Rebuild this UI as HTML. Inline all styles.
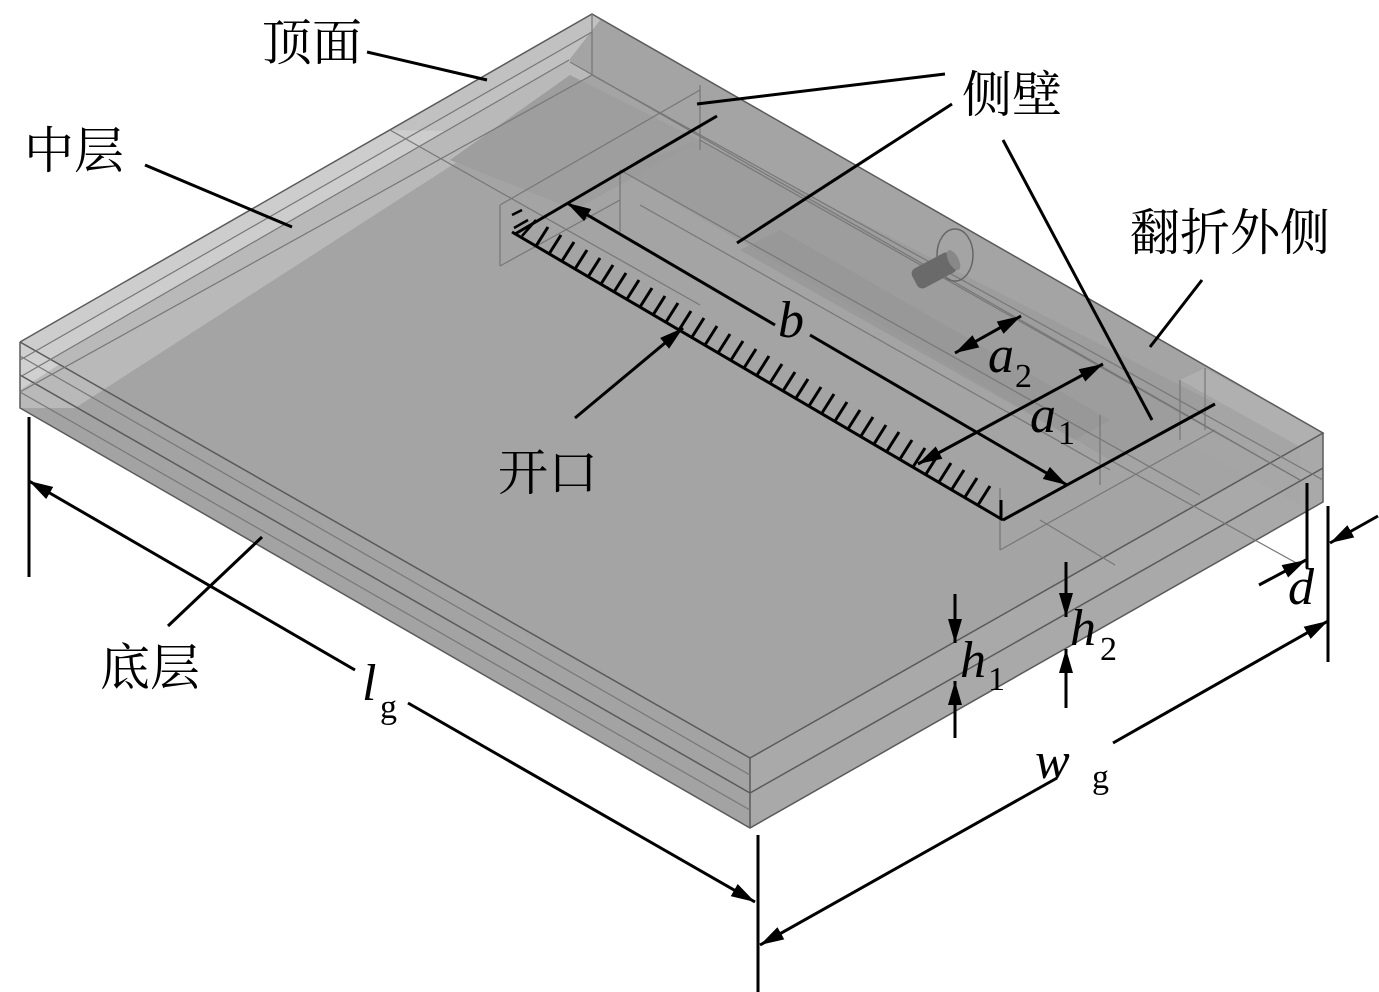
<!DOCTYPE html>
<html><head><meta charset="utf-8"><style>
html,body{margin:0;padding:0;background:#fff;}
svg{display:block;}
.cn{font-family:"Liberation Serif","Noto Serif CJK SC",serif;font-size:50px;fill:#000;}
.m{font-family:"Liberation Serif",serif;font-style:italic;font-size:52px;fill:#000;}
.s{font-family:"Liberation Serif",serif;font-size:34px;fill:#000;}
.k{stroke:#000;stroke-width:3;fill:none;}
.g{stroke:#5a5a5a;stroke-width:1.5;fill:none;}
.g2{stroke:#777;stroke-width:1.2;fill:none;}
</style></head><body>
<svg width="1379" height="992" viewBox="0 0 1379 992" xmlns="http://www.w3.org/2000/svg">
<defs>
<marker id="ah" viewBox="0 0 24 14" refX="24" refY="7" markerWidth="24" markerHeight="14" markerUnits="userSpaceOnUse" orient="auto">
<path d="M0,0 L24,7 L0,14 Z" fill="#000"/>
</marker>
<marker id="as" viewBox="0 0 24 14" refX="24" refY="7" markerWidth="24" markerHeight="14" markerUnits="userSpaceOnUse" orient="auto-start-reverse">
<path d="M0,0 L24,7 L0,14 Z" fill="#000"/>
</marker>
</defs>

<!-- board faces -->
<polygon points="20,342 750,758 750,828 20,408" fill="#a3a3a3"/>
<polygon points="750,758 1323,433 1323,502 750,828" fill="#a9a9a9"/>
<polygon points="20,342 592,14 1323,433 750,758" fill="#a4a4a4"/>
<!-- light bands along back-left edge -->
<polygon points="21,377 569,60 592,75 75,408 20,408" fill="#b9b9b9"/>
<polygon points="20,342 592,14 600,20 569,60 21,377" fill="#cdcdcd"/>
<polygon points="390,130 592,14 600,20 569,60 445,131" fill="#c1c1c1"/>
<polygon points="20,342 60,364 20,390" fill="#d0d0d0"/>
<!-- recessed darker region near top -->
<polygon points="450,160 570,75 700,140 575,210" fill="#9e9e9e"/>
<!-- right end raised box -->
<polygon points="1205,368 1323,433 1300,447 1180,380" fill="#b0b0b0"/>
<polygon points="1180,380 1300,447 1300,505 1180,440" fill="#a7a7a7" opacity="0.6"/>
<!-- slot channel -->
<polygon points="620,170 700,140 1215,403 1110,460" fill="#9a9a9a" opacity="0.7"/>
<polygon points="740,250 780,230 1110,420 1075,440" fill="#959595" opacity="0.6"/>

<!-- edges -->
<polyline class="g" points="20,342 592,14 1323,433 750,758 20,342"/>
<polyline class="g" points="20,342 20,408 750,828 1323,502 1323,433"/>
<line class="g" x1="750" y1="758" x2="750" y2="828"/>
<line class="g" x1="20" y1="375" x2="750" y2="793"/>
<line class="g" x1="750" y1="793" x2="1323" y2="468"/>
<!-- hidden/inner lines -->
<line class="g2" x1="20" y1="360" x2="592" y2="32"/>
<line class="g2" x1="20" y1="377" x2="569" y2="60"/>
<line class="g2" x1="20" y1="392" x2="592" y2="75"/>
<line class="g2" x1="592" y1="14" x2="592" y2="75"/>
<line class="g2" x1="20" y1="356" x2="750" y2="775"/>
<line class="g2" x1="20" y1="392" x2="750" y2="810"/>
<line class="g2" x1="570" y1="62" x2="1300" y2="480"/>
<line class="g2" x1="592" y1="75" x2="1323" y2="480"/>
<line class="g2" x1="390" y1="130" x2="700" y2="305"/>
<line class="g2" x1="700" y1="85" x2="700" y2="150"/>
<line class="g2" x1="620" y1="170" x2="620" y2="232"/>
<line class="g2" x1="500" y1="205" x2="500" y2="266"/>
<line class="g2" x1="500" y1="266" x2="620" y2="200"/>
<line class="g2" x1="500" y1="205" x2="700" y2="90"/>
<line class="g2" x1="620" y1="170" x2="1200" y2="495"/>
<line class="g2" x1="700" y1="140" x2="1300" y2="480"/>
<line class="g2" x1="640" y1="205" x2="1110" y2="470"/>
<line class="g2" x1="1205" y1="368" x2="1205" y2="430"/>
<line class="g2" x1="1100" y1="415" x2="1100" y2="485"/>
<line class="g2" x1="1000" y1="488" x2="1000" y2="550"/>
<line class="g2" x1="1000" y1="550" x2="1215" y2="430"/>
<line class="g2" x1="1040" y1="520" x2="1115" y2="565"/>
<line class="g2" x1="1110" y1="460" x2="1300" y2="565"/>
<line class="g2" x1="1180" y1="380" x2="1180" y2="440"/>

<!-- connector -->
<ellipse cx="955" cy="255" rx="18" ry="26" fill="none" stroke="#666" stroke-width="1.5"/>
<g transform="rotate(-28 935 270)"><rect x="912" y="259" width="44" height="22" rx="6" fill="#6a6a6a"/><ellipse cx="956" cy="270" rx="5" ry="11" fill="#888"/></g>

<!-- slot with hatching -->
<path d="M512,232 L1003,520" class="k"/>
<g stroke="#000" stroke-width="2.5">
<line x1="512" y1="215" x2="522" y2="210"/>
<line x1="514" y1="228" x2="528" y2="220"/>
<line x1="522" y1="236" x2="536" y2="220"/>
</g>
<path class="k" stroke-width="2.5" d="
M536,246 l12,-19 M549,254 l12,-19 M562,261 l12,-19 M575,269 l12,-19 M588,277 l12,-19
M601,284 l12,-19 M614,292 l12,-19 M627,299 l12,-19 M640,307 l12,-19 M653,315 l12,-19
M666,322 l12,-19 M679,330 l12,-19 M692,337 l12,-19 M705,345 l12,-19 M718,353 l12,-19
M731,360 l12,-19 M744,368 l12,-19 M757,375 l12,-19 M770,383 l12,-19 M783,391 l12,-19
M796,398 l12,-19 M809,406 l12,-19 M822,413 l12,-19 M835,421 l12,-19 M848,429 l12,-19
M861,436 l12,-19 M874,444 l12,-19 M887,451 l12,-19 M900,459 l12,-19 M913,467 l12,-19
M926,474 l12,-19 M939,482 l12,-19 M952,489 l12,-19 M965,497 l12,-19 M978,505 l12,-19
M1001,500 l0,18"/>
<!-- slot extension lines -->
<line class="k" x1="717" y1="116" x2="515" y2="234"/>
<line class="k" x1="1003" y1="520" x2="1215" y2="404"/>

<!-- b -->
<line class="k" x1="775" y1="325" x2="567" y2="203" marker-end="url(#ah)"/>
<line class="k" x1="810" y1="335" x2="1067" y2="485" marker-end="url(#ah)"/>
<text class="m" x="778" y="337">b</text>
<!-- a1 -->
<line class="k" x1="918" y1="464" x2="1103" y2="364" marker-start="url(#as)" marker-end="url(#ah)"/>
<text class="m" x="1030" y="432">a</text><text class="s" x="1058" y="444">1</text>
<!-- a2 -->
<line class="k" x1="955" y1="353" x2="1021" y2="316" marker-start="url(#as)" marker-end="url(#ah)"/>
<text class="m" x="988" y="372">a</text><text class="s" x="1015" y="387">2</text>

<!-- callouts -->
<text class="cn" x="262" y="60">顶面</text>
<line class="k" x1="367" y1="52" x2="487" y2="80"/>
<text class="cn" x="24" y="168">中层</text>
<line class="k" x1="145" y1="165" x2="292" y2="227"/>
<text class="cn" x="962" y="112">侧壁</text>
<line class="k" x1="945" y1="74" x2="697" y2="104"/>
<line class="k" x1="952" y1="104" x2="737" y2="243"/>
<line class="k" x1="1003" y1="140" x2="1152" y2="420"/>
<text class="cn" x="1130" y="250">翻折外侧</text>
<line class="k" x1="1202" y1="280" x2="1150" y2="347"/>
<text class="cn" x="498" y="490">开口</text>
<line class="k" x1="575" y1="418" x2="683" y2="328" marker-end="url(#ah)"/>
<text class="cn" x="100" y="685">底层</text>
<line class="k" x1="168" y1="626" x2="262" y2="537"/>

<!-- lg -->
<line class="k" x1="29" y1="417" x2="29" y2="577"/>
<line class="k" x1="758" y1="835" x2="758" y2="992"/>
<line class="k" x1="355" y1="670" x2="29" y2="481" marker-end="url(#ah)"/>
<line class="k" x1="408" y1="703" x2="755" y2="902" marker-end="url(#ah)"/>
<text class="m" x="362" y="700">l</text><text class="s" x="380" y="718">g</text>

<!-- wg -->
<line class="k" x1="1328" y1="506" x2="1328" y2="662"/>
<line class="k" x1="1057" y1="778" x2="760" y2="945" marker-end="url(#ah)"/>
<line class="k" x1="1113" y1="743" x2="1328" y2="621" marker-end="url(#ah)"/>
<text class="m" x="1035" y="778">w</text><text class="s" x="1092" y="788">g</text>

<!-- d -->
<line class="k" x1="1307" y1="483" x2="1307" y2="568"/>
<line class="k" x1="1378" y1="516" x2="1330" y2="543" marker-end="url(#ah)"/>
<line class="k" x1="1259" y1="585" x2="1306" y2="560" marker-end="url(#ah)"/>
<text class="m" x="1288" y="604">d</text>

<!-- h1 -->
<line class="k" x1="955" y1="594" x2="955" y2="643" marker-end="url(#ah)"/>
<line class="k" x1="955" y1="738" x2="955" y2="681" marker-end="url(#ah)"/>
<text class="m" x="960" y="677">h</text><text class="s" x="988" y="690">1</text>
<!-- h2 -->
<line class="k" x1="1066" y1="562" x2="1066" y2="617" marker-end="url(#ah)"/>
<line class="k" x1="1066" y1="708" x2="1066" y2="649" marker-end="url(#ah)"/>
<text class="m" x="1070" y="645">h</text><text class="s" x="1100" y="660">2</text>
</svg>
</body></html>
